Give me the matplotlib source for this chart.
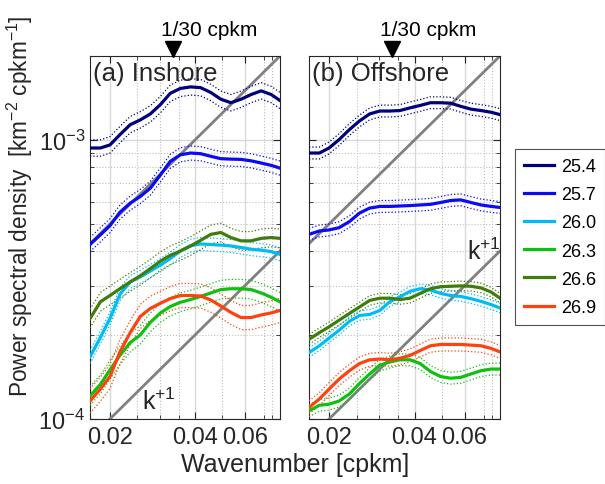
import matplotlib
matplotlib.use("Agg")
import matplotlib.pyplot as plt
from matplotlib.ticker import FixedLocator, NullFormatter, FixedFormatter
from matplotlib.transforms import offset_copy
import numpy as np

plt.rcParams['font.family'] = ['Liberation Sans', 'DejaVu Sans']
plt.rcParams['mathtext.fontset'] = 'custom'
plt.rcParams['mathtext.rm'] = 'Liberation Sans'
plt.rcParams['mathtext.it'] = 'Liberation Sans:italic'

# wavenumber [cpkm]
k = [0.017, 0.0185, 0.020, 0.0217, 0.0236, 0.0256, 0.0278, 0.0302, 0.0327,
     0.0355, 0.0386, 0.0419, 0.0455, 0.0494, 0.0536, 0.0582, 0.0632, 0.0686,
     0.0745, 0.080]

labels = ['25.4', '25.7', '26.0', '26.3', '26.6', '26.9']
colors = ['#00007a', '#0a0af5', '#00bcf5', '#10c010', '#3f7d0a', '#ff4010']

# (a) inshore spectra, units 1e-3 km^-2 cpkm^-1
inshore_254 = [0.936, 0.936, 0.96, 1.045, 1.135, 1.18, 1.24, 1.34, 1.47, 1.53,
               1.55, 1.54, 1.48, 1.40, 1.36, 1.40, 1.455, 1.50, 1.455, 1.385]
inshore_257 = [0.422, 0.457, 0.493, 0.551, 0.594, 0.627, 0.672, 0.75, 0.838, 0.885,
               0.898, 0.893, 0.874, 0.857, 0.854, 0.852, 0.842, 0.827, 0.811, 0.793]
inshore_260 = [0.167, 0.196, 0.229, 0.28, 0.31, 0.323, 0.339, 0.356, 0.376, 0.40,
               0.418, 0.424, 0.422, 0.42, 0.417, 0.412, 0.406, 0.403, 0.398, 0.389]
inshore_263 = [0.121, 0.133, 0.15, 0.169, 0.188, 0.20, 0.222, 0.24, 0.253, 0.262,
               0.268, 0.275, 0.283, 0.291, 0.293, 0.293, 0.291, 0.283, 0.273, 0.263]
inshore_266 = [0.229, 0.263, 0.277, 0.293, 0.31, 0.326, 0.346, 0.368, 0.386, 0.40,
               0.417, 0.437, 0.459, 0.466, 0.447, 0.435, 0.435, 0.444, 0.447, 0.444]
inshore_269 = [0.116, 0.128, 0.142, 0.174, 0.204, 0.233, 0.249, 0.26, 0.27, 0.277,
               0.277, 0.276, 0.267, 0.254, 0.241, 0.231, 0.231, 0.236, 0.24, 0.245]

# (b) offshore spectra
offshore_254 = [0.898, 0.898, 0.936, 1.003, 1.09, 1.17, 1.24, 1.27, 1.27, 1.275,
                1.304, 1.33, 1.36, 1.36, 1.355, 1.32, 1.29, 1.275, 1.257, 1.233]
offshore_257 = [0.459, 0.472, 0.476, 0.485, 0.51, 0.547, 0.57, 0.578, 0.578, 0.58,
                0.582, 0.585, 0.588, 0.597, 0.607, 0.61, 0.597, 0.585, 0.578, 0.573]
offshore_260 = [0.173, 0.183, 0.195, 0.208, 0.224, 0.235, 0.237, 0.245, 0.263, 0.274,
                0.287, 0.293, 0.29, 0.282, 0.277, 0.275, 0.27, 0.264, 0.257, 0.25]
offshore_263 = [0.107, 0.112, 0.113, 0.116, 0.123, 0.134, 0.145, 0.156, 0.16, 0.163,
                0.163, 0.158, 0.148, 0.142, 0.14, 0.141, 0.145, 0.149, 0.151, 0.151]
offshore_266 = [0.193, 0.204, 0.214, 0.226, 0.239, 0.252, 0.266, 0.271, 0.271, 0.268,
                0.271, 0.282, 0.293, 0.298, 0.299, 0.30, 0.299, 0.295, 0.285, 0.271]
offshore_269 = [0.110, 0.118, 0.128, 0.139, 0.149, 0.158, 0.163, 0.164, 0.163, 0.165,
                0.169, 0.176, 0.183, 0.185, 0.185, 0.185, 0.184, 0.183, 0.179, 0.174]

# multiplicative half-width of the dotted confidence bounds
ci_inshore = [1.07, 1.06, 1.055, 1.08, 1.08, 1.105]
ci_offshore = [1.05, 1.05, 1.04, 1.05, 1.04, 1.055]

k_ref = [0.017, 0.08]
k_mark = 1 / 30

panels = [
    ('(a) Inshore', [inshore_254, inshore_257, inshore_260, inshore_263, inshore_266, inshore_269], ci_inshore),
    ('(b) Offshore', [offshore_254, offshore_257, offshore_260, offshore_263, offshore_266, offshore_269], ci_offshore),
]

fig = plt.figure(figsize=(6.05, 4.85), dpi=100)
ax1 = fig.add_axes([90 / 605, 65 / 485, 190 / 605, 363 / 485])
ax2 = fig.add_axes([309 / 605, 65 / 485, 191 / 605, 363 / 485])

kk = np.array(k)
kr = np.array(k_ref)
handles = []
for ax, (title, series, ci) in zip([ax1, ax2], panels):
    ax.set_xscale('log')
    ax.set_yscale('log')
    # k^+1 reference slopes
    ax.plot(kr, 0.025 * kr, color='#808080', lw=2, zorder=2)
    ax.plot(kr, 0.005 * kr, color='#808080', lw=2, zorder=2)
    for s, c, lab, f in zip(series, colors, labels, ci):
        v = np.array(s) * 1e-3
        ax.plot(kk, v * f, color=c, lw=0.9, ls=':', zorder=3)
        ax.plot(kk, v / f, color=c, lw=0.9, ls=':', zorder=3)
        h, = ax.plot(kk, v, color=c, lw=2.3, label=lab, zorder=4)
        if ax is ax1:
            handles.append(h)

    ax.set_xlim(0.017, 0.08)
    ax.set_ylim(1e-4, 2e-3)
    ax.xaxis.set_major_locator(FixedLocator([0.02, 0.04, 0.06]))
    ax.xaxis.set_major_formatter(FixedFormatter(['0.02', '0.04', '0.06']))
    ax.xaxis.set_minor_locator(FixedLocator([0.025, 0.03, 0.035, 0.05, 0.07, 0.075]))
    ax.xaxis.set_minor_formatter(NullFormatter())
    ax.yaxis.set_minor_formatter(NullFormatter())
    ax.tick_params(which='both', direction='in', top=True, right=True,
                   labelsize=17, colors='#262626')
    ax.tick_params(which='major', length=5, width=0.8)
    ax.tick_params(which='minor', length=3, width=0.6)
    ax.tick_params(axis='x', pad=5)
    ax.grid(True, which='major', color='#d9d9d9', lw=1.0, ls='-')
    ax.grid(True, which='minor', color='#bfbfbf', lw=0.8, ls=':')
    ax.set_axisbelow(True)
    for sp in ax.spines.values():
        sp.set_color('#262626')
        sp.set_linewidth(0.8)

    ax.text(0.015, 0.985, title, transform=ax.transAxes, ha='left', va='top',
            fontsize=18.5, color='#262626')
    tri = offset_copy(ax.get_xaxis_transform(), fig=fig, y=5.2, units='points')
    ax.plot([k_mark], [1], marker='v', ms=11.5, color='k', clip_on=False,
            transform=tri, zorder=6)
    ax.annotate('1/30 cpkm', xy=(k_mark, 1), xycoords=('data', 'axes fraction'),
                xytext=(-8.5, 12.5), textcoords='offset points', ha='left',
                va='bottom', fontsize=15)

ax2.tick_params(axis='y', labelleft=False)
ax1.text(0.026, 1.04e-4, 'k$^{\\mathrm{+1}}$', fontsize=18, color='#262626',
         ha='left', va='bottom')
ax2.text(0.061, 3.6e-4, 'k$^{\\mathrm{+1}}$', fontsize=18, color='#262626',
         ha='left', va='bottom')

fig.text(295 / 605, 1 - 465 / 485, 'Wavenumber [cpkm]', ha='center', va='center',
         fontsize=18, color='#262626')
fig.text(20 / 605, 1 - 206 / 485,
         'Power spectral density  [km$^{\\mathrm{-2}}$ cpkm$^{\\mathrm{-1}}$]',
         rotation=90, ha='center', va='center', fontsize=16.3, color='#262626')

leg = fig.legend(handles=handles, loc='upper left', bbox_to_anchor=(515 / 605, 1 - 150 / 485),
                 borderaxespad=0, fontsize=13, frameon=True, fancybox=False,
                 handlelength=1.65, labelspacing=0.62, borderpad=0.5,
                 handletextpad=0.4)
leg.get_frame().set_edgecolor('#262626')
leg.get_frame().set_linewidth(0.8)

fig.savefig('out.png', dpi=100)
